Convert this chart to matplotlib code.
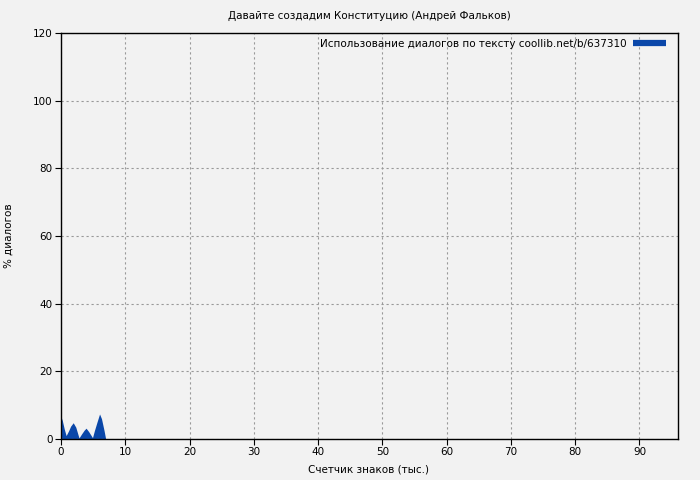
import matplotlib
matplotlib.use("Agg")
import matplotlib.pyplot as plt

title = "Давайте создадим Конституцию (Андрей Фальков)"
xlabel = "Счетчик знаков (тыс.)"
ylabel = "% диалогов"
legend_label = "Использование диалогов по тексту coollib.net/b/637310"

x_vals = [0, 0.2, 0.5, 0.8, 1.2, 1.5, 1.9, 2.3, 2.8, 3.2, 3.6, 3.9, 4.3, 4.9, 5.2, 5.6, 6.0, 6.3, 6.7, 6.95]
y_vals = [6.6, 5.5, 3.0, 1.0, 2.5, 3.8, 4.8, 3.5, 0.3, 1.5, 2.6, 3.2, 2.2, 0.4, 2.5, 5.0, 7.4, 6.0, 2.5, 0.0]

xticks = [0, 10, 20, 30, 40, 50, 60, 70, 80, 90]
yticks = [0, 20, 40, 60, 80, 100, 120]

color = "#0a47a9"
bg = "#f2f2f2"
fs = 7.5

fig = plt.figure(figsize=(7, 4.8), dpi=100, facecolor=bg)
ax = fig.add_axes([61/700, 41/480, (678-61)/700, (439-33)/480])
ax.set_facecolor(bg)

ax.fill_between(x_vals, y_vals, 0, color=color, linewidth=0)
line, = ax.plot([], [], color=color, linewidth=4.5, solid_capstyle="butt")

ax.set_xlim(0, 96)
ax.set_ylim(0, 120)
ax.set_xticks(xticks)
ax.set_yticks(yticks)
ax.tick_params(direction="out", labelsize=fs, length=4, pad=2)
ax.grid(True, color="#999999", linestyle=(0, (2, 2.5)), linewidth=0.8)
for s in ax.spines.values():
    s.set_color("black")
    s.set_linewidth(1)

fig.text(369/700, 1 - 16/480, title, fontsize=fs, ha="center", va="center")
fig.text(369/700, 1 - 470/480, xlabel, fontsize=fs, ha="center", va="center")
fig.text(9/700, 1 - 236/480, ylabel, fontsize=fs, ha="center", va="center", rotation=90)

leg = ax.legend([line], [legend_label], loc="upper right", fontsize=fs, frameon=False,
                markerfirst=False, handlelength=3.2, handletextpad=0.6,
                bbox_to_anchor=(669/700, 1 - 36/480), bbox_transform=fig.transFigure,
                borderaxespad=0.0, borderpad=0.3)

fig.savefig("out.png", dpi=100, facecolor=bg)
